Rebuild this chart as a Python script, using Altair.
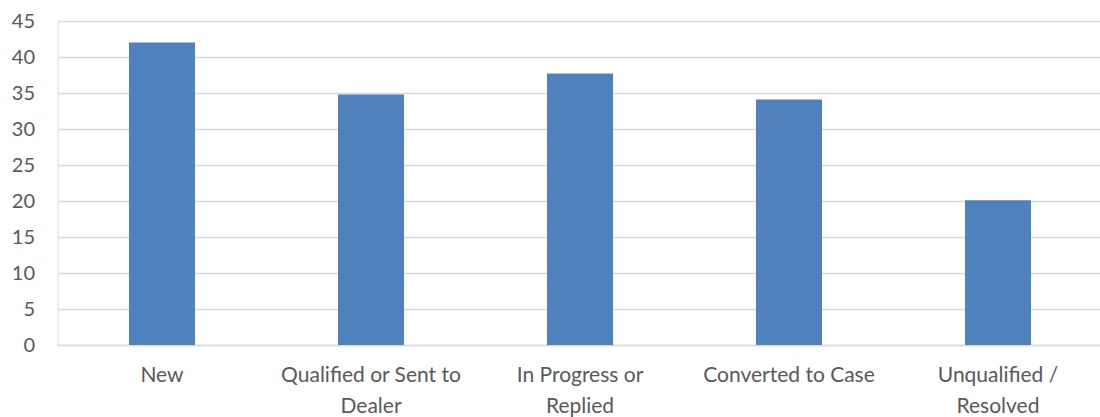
import json
import altair as alt
import pandas as pd

# Lead counts by status
categories = [
    "New",
    "Qualified or Sent to Dealer",
    "In Progress or Replied",
    "Converted to Case",
    "Unqualified / Resolved",
]
values = [42.0, 34.8, 37.7, 34.1, 20.1]

# Wrapped axis labels, one list of lines per category
label_lines = [
    ["New"],
    ["Qualified or Sent to", "Dealer"],
    ["In Progress or", "Replied"],
    ["Converted to Case"],
    ["Unqualified /", "Resolved"],
]

y_ticks = [0, 5, 10, 15, 20, 25, 30, 35, 40, 45]

df = pd.DataFrame({"status": categories, "count": values})

label_map = json.dumps(dict(zip(categories, label_lines)))
label_expr = f"{label_map}[datum.label]"

FONT = "Lato"
TEXT = "#595959"
GRID = "#d9d9d9"

chart = (
    alt.Chart(df)
    .mark_bar(color="#4F81BD")
    .encode(
        x=alt.X(
            "status:N",
            sort=categories,
            title=None,
            scale=alt.Scale(paddingInner=0.684, paddingOuter=0.342, round=False),
            axis=alt.Axis(
                labelAngle=0,
                labelExpr=label_expr,
                labelFont=FONT,
                labelFontSize=21,
                labelColor=TEXT,
                labelPadding=19,
                labelLineHeight=31,
                labelBaseline="top",
                ticks=False,
                domainColor=GRID,
                domainWidth=1.5,
                grid=False,
                labelLimit=400,
            ),
        ),
        y=alt.Y(
            "count:Q",
            title=None,
            scale=alt.Scale(domain=[0, 45], nice=False),
            axis=alt.Axis(
                values=y_ticks,
                labelFont=FONT,
                labelFontSize=20,
                labelColor=TEXT,
                labelPadding=23,
                ticks=False,
                domain=False,
                gridColor=GRID,
                gridWidth=1.3,
            ),
        ),
    )
    .properties(
        width=1045,
        height=324,
        autosize=alt.AutoSizeParams(type="none"),
        # the plot runs a little past the right edge, so the grid reaches it
        padding={"left": 57.5, "top": 21, "right": -3, "bottom": 72},
    )
    .configure_view(stroke=None)
    .configure(background="white")
)

chart.save("out.html", embed_options={"renderer": "svg", "actions": False})
